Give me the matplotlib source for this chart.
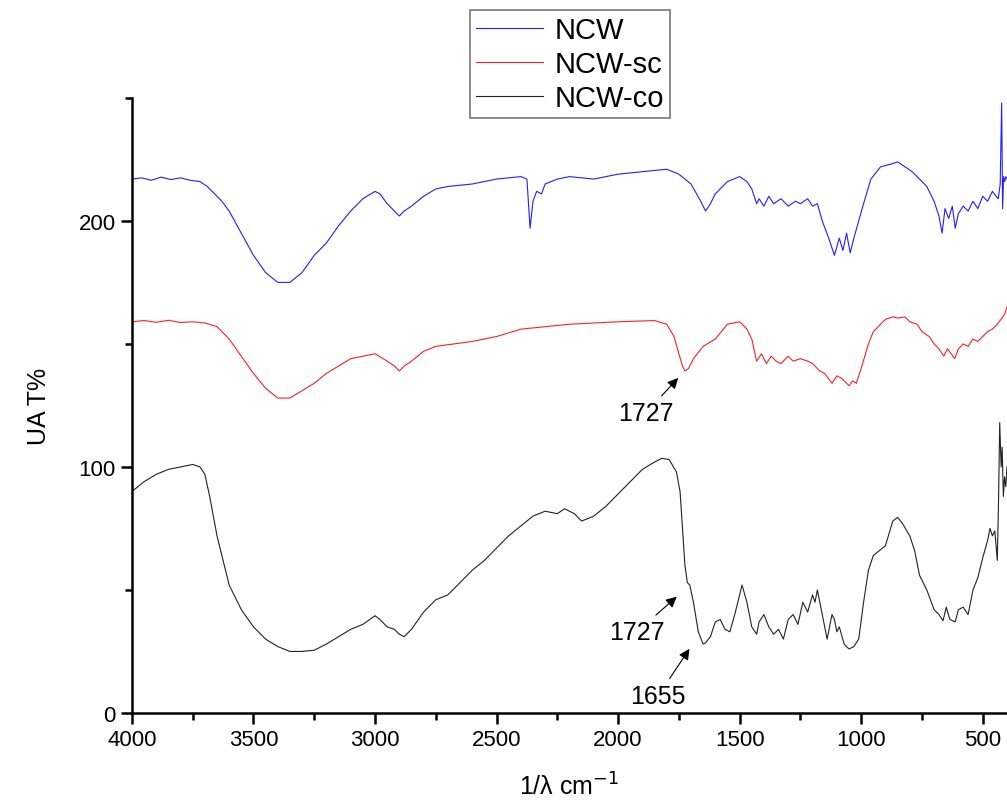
import matplotlib
matplotlib.use('Agg')
import matplotlib.pyplot as plt
import numpy as np

plt.rcParams['font.family'] = ['Liberation Sans', 'DejaVu Sans']

# NCW spectrum (wavenumber, UA T%)
ncw_x = [4000, 3960, 3920, 3880, 3840, 3800, 3760, 3720, 3690, 3660, 3630, 3600, 3550, 3500,
         3450, 3400, 3350, 3300, 3250, 3200, 3150, 3100, 3050, 3000, 2980, 2950, 2920, 2900,
         2880, 2850, 2800, 2750, 2700, 2600, 2500, 2400, 2375, 2362, 2350, 2335, 2315, 2300,
         2250, 2200, 2100, 2000, 1900, 1800, 1750, 1700, 1660, 1640, 1620, 1600, 1550, 1500,
         1470, 1450, 1430, 1420, 1400, 1380, 1360, 1330, 1300, 1270, 1250, 1220, 1200, 1180,
         1160, 1130, 1110, 1090, 1075, 1060, 1045, 1030, 1010, 990, 960, 920, 880, 850, 820,
         790, 760, 730, 700, 680, 667, 655, 640, 625, 613, 600, 580, 560, 540, 520, 500, 480,
         460, 445, 436, 428, 422, 418, 414, 410, 405, 400]
ncw_y = [217, 217.5, 216.5, 217.8, 216.8, 217.5, 216.5, 216, 214, 211, 208, 204, 195, 186,
         179, 175, 175, 179, 186, 191, 198, 204, 209, 212, 211, 207, 204, 202,
         204, 206, 210, 213, 214, 215, 217, 218, 217, 197, 208, 212, 211, 215,
         217, 218, 217, 219, 220, 221, 219, 215, 208, 204, 207, 211, 216, 218,
         216, 213, 207, 209, 206, 210, 207, 209, 206, 208, 207, 209, 206, 207,
         200, 192, 186, 193, 188, 195, 187, 193, 200, 207, 217, 222, 223, 224, 222,
         220, 217, 214, 208, 202, 195, 205, 201, 206, 197, 203, 206, 204, 208, 205, 210, 208,
         212, 210, 209, 215, 248, 205, 218, 216, 218, 217]

# NCW-sc spectrum
sc_x = [4000, 3950, 3900, 3850, 3800, 3750, 3700, 3650, 3600, 3550, 3500, 3450, 3400, 3350,
        3300, 3250, 3200, 3100, 3000, 2950, 2920, 2900, 2880, 2850, 2800, 2750, 2600, 2500,
        2400, 2300, 2200, 2000, 1850, 1800, 1770, 1750, 1735, 1725, 1710, 1690, 1650, 1600,
        1550, 1500, 1470, 1450, 1430, 1410, 1390, 1370, 1350, 1330, 1300, 1280, 1250, 1220,
        1200, 1170, 1150, 1120, 1100, 1080, 1060, 1050, 1035, 1020, 1000, 970, 950, 900,
        870, 850, 820, 800, 770, 750, 720, 700, 680, 660, 645, 630, 615, 600, 580, 560, 540,
        520, 500, 480, 460, 440, 425, 410, 400]
sc_y = [159, 159.5, 158.8, 159.6, 158.7, 159, 158.5, 157, 152, 145, 138, 132, 128, 128,
        131, 134, 138, 144, 146, 143, 141, 139, 141, 143, 147, 149, 151, 153,
        156, 157, 158, 159, 159.5, 158, 153, 146, 141, 139, 140, 144, 149, 152,
        158, 159, 156, 152, 143, 146, 142, 145, 143, 142, 145, 143, 144, 143,
        142, 139, 138, 134, 137, 136, 134, 133, 135, 134, 140, 150, 155, 160,
        161, 160.5, 161, 159, 158, 155, 153, 150, 148, 145, 148, 146, 144, 148, 150, 149, 152,
        151, 153, 155, 156, 158, 160, 162, 165]

# NCW-co spectrum
co_x = [4000, 3950, 3900, 3850, 3800, 3750, 3720, 3700, 3680, 3650, 3620, 3600, 3550, 3500,
        3450, 3400, 3350, 3300, 3250, 3200, 3150, 3100, 3050, 3000, 2980, 2950, 2920, 2900,
        2880, 2850, 2800, 2750, 2700, 2650, 2600, 2550, 2500, 2450, 2400, 2350, 2300, 2250,
        2220, 2180, 2150, 2100, 2050, 2000, 1950, 1900, 1850, 1820, 1790, 1760, 1745, 1735,
        1725, 1715, 1705, 1690, 1670, 1650, 1640, 1620, 1600, 1580, 1560, 1540, 1520, 1490,
        1470, 1450, 1430, 1420, 1400, 1380, 1360, 1340, 1320, 1300, 1280, 1260, 1240, 1220,
        1200, 1190, 1180, 1160, 1140, 1120, 1110, 1100, 1090, 1070, 1050, 1030, 1010, 990,
        970, 950, 900, 870, 850, 830, 800, 780, 760, 730, 700, 680, 663, 650, 635, 613,
        600, 580, 560, 540, 520, 500, 480, 470, 460, 450, 440, 435, 430, 424, 420, 415,
        410, 405, 400]
co_y = [90, 94, 97, 99, 100, 101, 100, 97, 88, 72, 60, 52, 42, 35,
        30, 27, 25, 25, 25.5, 28, 31, 34, 36, 39.5, 38, 35, 34, 32,
        31, 34, 41, 46, 48, 53, 58, 62, 67, 72, 76, 80, 82, 81,
        83, 81, 78, 80, 84, 89, 94, 99, 102, 103.5, 103, 98, 90, 75,
        60, 53, 52, 45, 33, 28, 28.5, 31, 37, 38, 34, 33, 40, 52,
        45, 35, 32, 37, 40, 35, 32, 34, 30, 38, 40, 36, 45, 41,
        48, 45, 50, 40, 30, 40, 38, 33, 35, 28, 26, 27, 30, 45,
        58, 64, 68, 78, 79.5, 77, 72, 66, 56, 50, 42, 40, 37.5, 43, 38, 37,
        42, 43, 40, 50, 55, 63, 70, 75, 72, 74, 62, 85, 118, 100, 108, 88,
        96, 92, 100]

fig = plt.figure(figsize=(10.07, 8.04), dpi=100)
ax = fig.add_axes([0.131, 0.112, 0.869, 0.765])

ax.plot(ncw_x, ncw_y, color='#2020ff', lw=0.8, label='NCW')
ax.plot(sc_x, sc_y, color='#ff2020', lw=0.8, label='NCW-sc')
ax.plot(co_x, co_y, color='#222222', lw=0.8, label='NCW-co')

ax.set_xlim(4000, 400)
ax.set_ylim(0, 250)
ax.set_xticks([4000, 3500, 3000, 2500, 2000, 1500, 1000, 500])
ax.set_xticks([3750, 3250, 2750, 2250, 1750, 1250, 750], minor=True)
ax.set_yticks([0, 100, 200])
ax.set_yticks([50, 150, 250], minor=True)
ax.tick_params(which='major', direction='out', length=8, width=1.8, labelsize=16)
ax.tick_params(which='minor', direction='out', length=5, width=1.8)
for s in ['top', 'right']:
    ax.spines[s].set_visible(False)
for s in ['left', 'bottom']:
    ax.spines[s].set_linewidth(1.8)

ax.set_xlabel('1/λ cm$^{-1}$', fontsize=18, labelpad=16)
ax.set_ylabel('UA T%', fontsize=18, labelpad=20)

arrow = dict(arrowstyle='-|>', color='k', lw=0.8, mutation_scale=16)
ax.annotate('1727', xy=(1745, 137), xytext=(1885, 122), fontsize=18,
            ha='center', va='center', arrowprops=arrow)
ax.annotate('1727', xy=(1750, 48), xytext=(1922, 33), fontsize=18,
            ha='center', va='center', arrowprops=arrow)
ax.annotate('1655', xy=(1700, 27), xytext=(1835, 7), fontsize=18,
            ha='center', va='center', arrowprops=arrow)

leg = fig.legend(loc='upper left', bbox_to_anchor=(0.467, 0.986), fontsize=21,
                 frameon=True, fancybox=False, handlelength=2.3, labelspacing=0.2,
                 borderpad=0.2, handletextpad=0.4, borderaxespad=0.0)
leg.get_frame().set_edgecolor('#555555')
leg.get_frame().set_linewidth(1.2)

plt.savefig('out.png', dpi=100)
